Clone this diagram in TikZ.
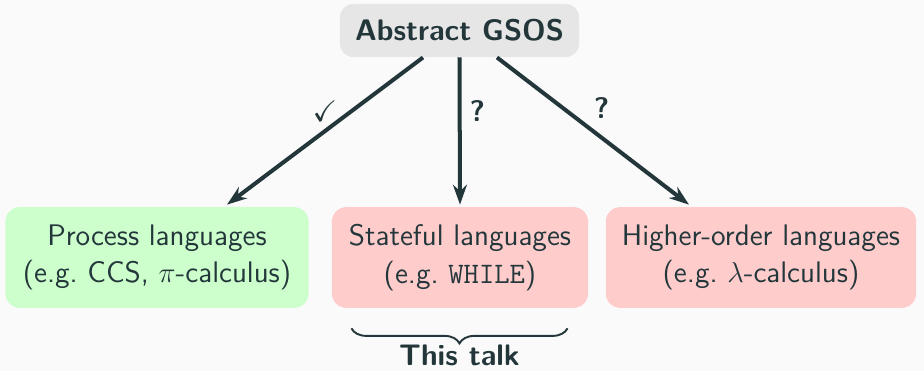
\documentclass[tikz,border=0pt]{standalone}
\usepackage{amsmath,amssymb}
\usetikzlibrary{positioning}
\usetikzlibrary{calc}
\usetikzlibrary{arrows.meta, decorations.pathreplacing}
\definecolor{mDarkTeal}{HTML}{23373B}
\definecolor{mBack}{HTML}{FAFAFA}
\definecolor{boxgray}{HTML}{E6E6E6}
\definecolor{boxgreen}{HTML}{CCFFCC}
\definecolor{boxred}{HTML}{FFCCCC}
\begin{document}
\begin{tikzpicture}[x=0.417pt, y=-0.417pt,
			every node/.style = {
				text=mDarkTeal, font=\fontsize{12.4}{15.7}\selectfont\sffamily
			},
			lang/.style = {
				rounded corners=6pt, align=center, minimum height=42pt, inner xsep=6.7pt
			},
			bfnode/.style = {
				font=\fontsize{12.4}{15.7}\selectfont\sffamily\bfseries
			}]
			\useasboundingbox (0,0) rectangle (924,371);
			\fill [mBack] (0,0) rectangle (924,371);
			\node (gsos) [bfnode, fill=boxgray, rounded corners=5.5pt,
			minimum width=99.7pt, minimum height=22.1pt] at (459.5,30.5) {Abstract GSOS};
			\node (proc) [lang, fill=boxgreen, minimum width=126.4pt] at (157,257.5)
			{Process languages\\(e.g.\ CCS, $\pi$-calculus)};
			\node (state) [lang, fill=boxred, minimum width=106.8pt] at (460,257.5)
			{Stateful languages\\(e.g.\ \texttt{WHILE})};
			\node (higher) [lang, fill=boxred, minimum width=129.3pt] at (761,257.5)
			{Higher-order languages\\(e.g.\ $\lambda$-calculus)};
			\path [-{Stealth[length=8.3pt, width=5.8pt]}, line width=1.67pt, color=mDarkTeal]
			($(gsos.south)+(-36.5,0)$) edge node[midway, above] {$\checkmark$} ($(proc.north)+(70,-2)$)
			(gsos.south) edge node[pos=0.365, right, bfnode] {?} ($(state.north)+(0,-2)$)
			($(gsos.south)+(37.5,0)$) edge node[pos=0.545, above=4pt, bfnode] {?} ($(higher.north)+(-72,-2)$);
			% brace under the stateful box
			\coordinate (bl) at ($(state.south west)+(20,20)$);
			\coordinate (br) at ($(state.south east)+(-21,20)$);
			\draw [decorate, decoration={brace, mirror, amplitude=6.3pt},
			line width=0.8pt, color=mDarkTeal] (bl) -- (br);
			\node (talk) [bfnode, inner sep=0.5pt, below=6.2pt] at ($(bl)!0.5!(br)$) {This talk};
		\end{tikzpicture}
\end{document}
